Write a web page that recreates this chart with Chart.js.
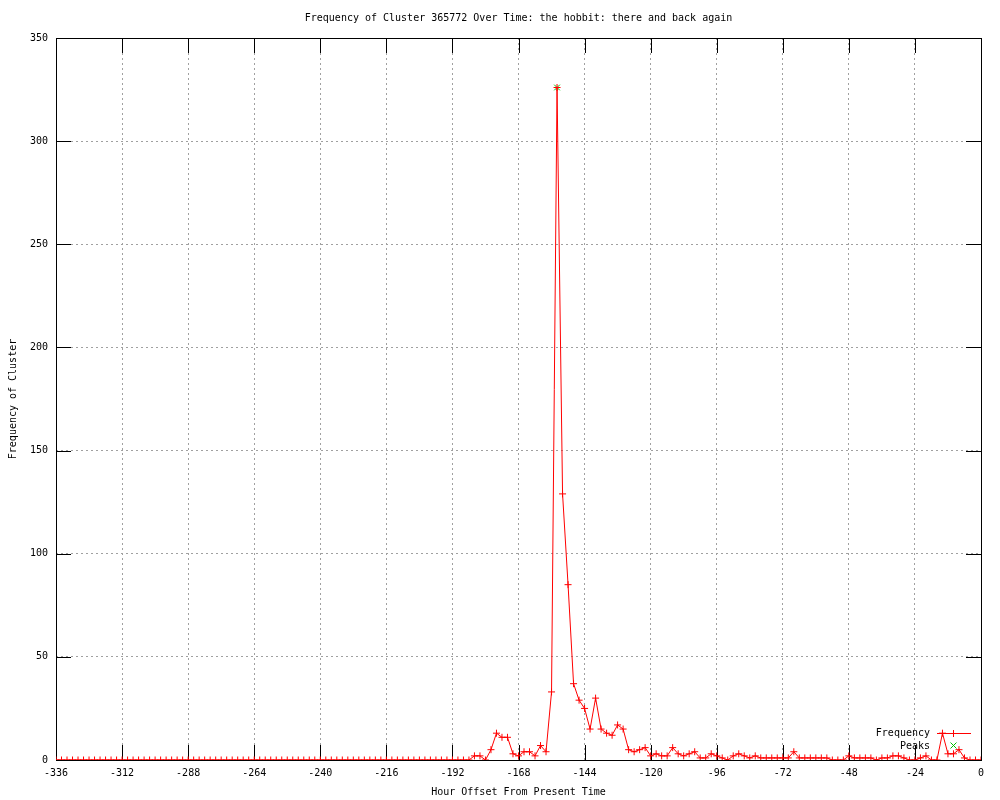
<!DOCTYPE html>
<html>
<head>
<meta charset="utf-8">
<title>Frequency of Cluster 365772</title>
<script src="https://cdn.jsdelivr.net/npm/chart.js@4"></script>
<style>
  body{margin:0;background:#fff;}
  canvas{display:block;}
</style>
</head>
<body>
<canvas id="chart" width="1000" height="800"></canvas>
<script>
// data (one point every 2 hours)
const hours = [
  -336,-334,-332,-330,-328,-326,-324,-322,-320,-318,
  -316,-314,-312,-310,-308,-306,-304,-302,-300,-298,
  -296,-294,-292,-290,-288,-286,-284,-282,-280,-278,
  -276,-274,-272,-270,-268,-266,-264,-262,-260,-258,
  -256,-254,-252,-250,-248,-246,-244,-242,-240,-238,
  -236,-234,-232,-230,-228,-226,-224,-222,-220,-218,
  -216,-214,-212,-210,-208,-206,-204,-202,-200,-198,
  -196,-194,-192,-190,-188,-186,-184,-182,-180,-178,
  -176,-174,-172,-170,-168,-166,-164,-162,-160,-158,
  -156,-154,-152,-150,-148,-146,-144,-142,-140,-138,
  -136,-134,-132,-130,-128,-126,-124,-122,-120,-118,
  -116,-114,-112,-110,-108,-106,-104,-102,-100,-98,
  -96,-94,-92,-90,-88,-86,-84,-82,-80,-78,
  -76,-74,-72,-70,-68,-66,-64,-62,-60,-58,
  -56,-54,-52,-50,-48,-46,-44,-42,-40,-38,
  -36,-34,-32,-30,-28,-26,-24,-22,-20,-18,
  -16,-14,-12,-10,-8,-6,-4,-2,0
];
const frequency = [
  0,0,0,0,0,0,0,0,0,0,
  0,0,0,0,0,0,0,0,0,0,
  0,0,0,0,0,0,0,0,0,0,
  0,0,0,0,0,0,0,0,0,0,
  0,0,0,0,0,0,0,0,0,0,
  0,0,0,0,0,0,0,0,0,0,
  0,0,0,0,0,0,0,0,0,0,
  0,0,0,0,0,0,2,2,0,5,
  13,11,11,3,2,4,4,2,7,4,
  33,326,129,85,37,29,25,15,30,15,
  13,12,17,15,5,4,5,6,2,3,
  2,2,6,3,2,3,4,1,1,3,
  2,1,0,2,3,2,1,2,1,1,
  1,1,1,1,4,1,1,1,1,1,
  1,0,0,0,2,1,1,1,1,0,
  1,1,2,2,1,0,0,1,2,0,
  0,13,3,3,5,1,0,0,0
];
const peakHours = [-154];
const peakValues = [326];

const xTicks = [-336,-312,-288,-264,-240,-216,-192,-168,-144,-120,-96,-72,-48,-24,0];
const yTicks = [0,50,100,150,200,250,300,350];

const titleText = 'Frequency of Cluster 365772 Over Time: the hobbit: there and back again';
const xLabel = 'Hour Offset From Present Time';
const yLabel = 'Frequency of Cluster';

const FONT = '"DejaVu Sans Mono", "Liberation Mono", monospace';
const RED = '#ff0000';
const GREEN = '#00c000';

// gnuplot style frame with tics pointing inwards
const framePlugin = {
  id:'frame',
  beforeDatasetsDraw(chart){
    const {ctx, chartArea:a, scales} = chart;
    const len = 15;
    ctx.save();
    ctx.strokeStyle = '#000';
    ctx.lineWidth = 1;
    ctx.beginPath();
    xTicks.forEach(v=>{
      const x = Math.round(scales.x.getPixelForValue(v)) + 0.5;
      ctx.moveTo(x, a.bottom); ctx.lineTo(x, a.bottom - len);
      ctx.moveTo(x, a.top); ctx.lineTo(x, a.top + len);
    });
    yTicks.forEach(v=>{
      const y = Math.round(scales.y.getPixelForValue(v)) + 0.5;
      ctx.moveTo(a.left, y); ctx.lineTo(a.left + len, y);
      ctx.moveTo(a.right, y); ctx.lineTo(a.right - len, y);
    });
    ctx.stroke();
    ctx.strokeRect(Math.round(a.left)+0.5, Math.round(a.top)+0.5, Math.round(a.right-a.left), Math.round(a.bottom-a.top));
    ctx.restore();
  }
};

// legend drawn the gnuplot way: text right aligned, sample on the right
const keyPlugin = {
  id:'key',
  afterDraw(chart){
    const {ctx} = chart;
    const ds = chart.data.datasets;
    ctx.save();
    ctx.setLineDash([]);
    ctx.font = '10px ' + FONT;
    ctx.fillStyle = '#000';
    ctx.textAlign = 'right';
    ctx.textBaseline = 'middle';
    ctx.fillText(ds[0].label, 930, 733);
    ctx.fillText(ds[1].label, 930, 746);
    // red line with a + in the middle
    ctx.fillStyle = RED;
    ctx.fillRect(937, 733, 34, 1);
    ctx.fillRect(953, 730, 1, 7);
    // green x
    ctx.lineWidth = 1;
    ctx.strokeStyle = GREEN;
    ctx.beginPath();
    ctx.moveTo(950.5, 742.5); ctx.lineTo(956.5, 748.5);
    ctx.moveTo(956.5, 742.5); ctx.lineTo(950.5, 748.5);
    ctx.stroke();
    ctx.restore();
  }
};

new Chart(document.getElementById('chart'), {
  type:'scatter',
  data:{
    datasets:[
      {
        label:'Frequency',
        data:hours.map((h,i)=>({x:h, y:frequency[i]})),
        showLine:true,
        borderColor:RED,
        backgroundColor:RED,
        borderWidth:1,
        pointStyle:'cross',
        pointRadius:3.5,
        pointBorderWidth:1,
        tension:0
      },
      {
        label:'Peaks',
        data:peakHours.map((h,i)=>({x:h, y:peakValues[i]})),
        showLine:false,
        borderColor:GREEN,
        backgroundColor:GREEN,
        pointStyle:'crossRot',
        pointRadius:4,
        pointBorderWidth:1
      }
    ]
  },
  options:{
    responsive:false,
    animation:false,
    devicePixelRatio:1,
    layout:{padding:{left:0, right:19, top:0, bottom:0}},
    plugins:{
      legend:{display:false},
      tooltip:{enabled:false},
      title:{
        display:true,
        fullSize:false,
        text:titleText,
        color:'#000',
        font:{family:FONT, size:10, weight:'normal'},
        padding:{top:12, bottom:14}
      }
    },
    scales:{
      x:{
        type:'linear',
        min:-336, max:0,
        afterFit(s){ s.height = 40; },
        ticks:{stepSize:24, color:'#000', font:{family:FONT, size:10}, padding:7, maxRotation:0, autoSkip:false},
        grid:{color:'#a0a0a0', lineWidth:1, drawTicks:false},
        border:{display:false, dash:[2,3]},
        title:{display:true, text:xLabel, color:'#000', font:{family:FONT, size:10}, padding:{top:0, bottom:2}}
      },
      y:{
        min:0, max:350,
        afterFit(s){ s.width = 56; },
        ticks:{stepSize:50, color:'#000', font:{family:FONT, size:10}, padding:8},
        grid:{color:'#a0a0a0', lineWidth:1, drawTicks:false},
        border:{display:false, dash:[2,3]},
        title:{display:true, text:yLabel, color:'#000', font:{family:FONT, size:10}, padding:{top:7, bottom:0}}
      }
    }
  },
  plugins:[framePlugin, keyPlugin]
});
</script>
</body>
</html>
